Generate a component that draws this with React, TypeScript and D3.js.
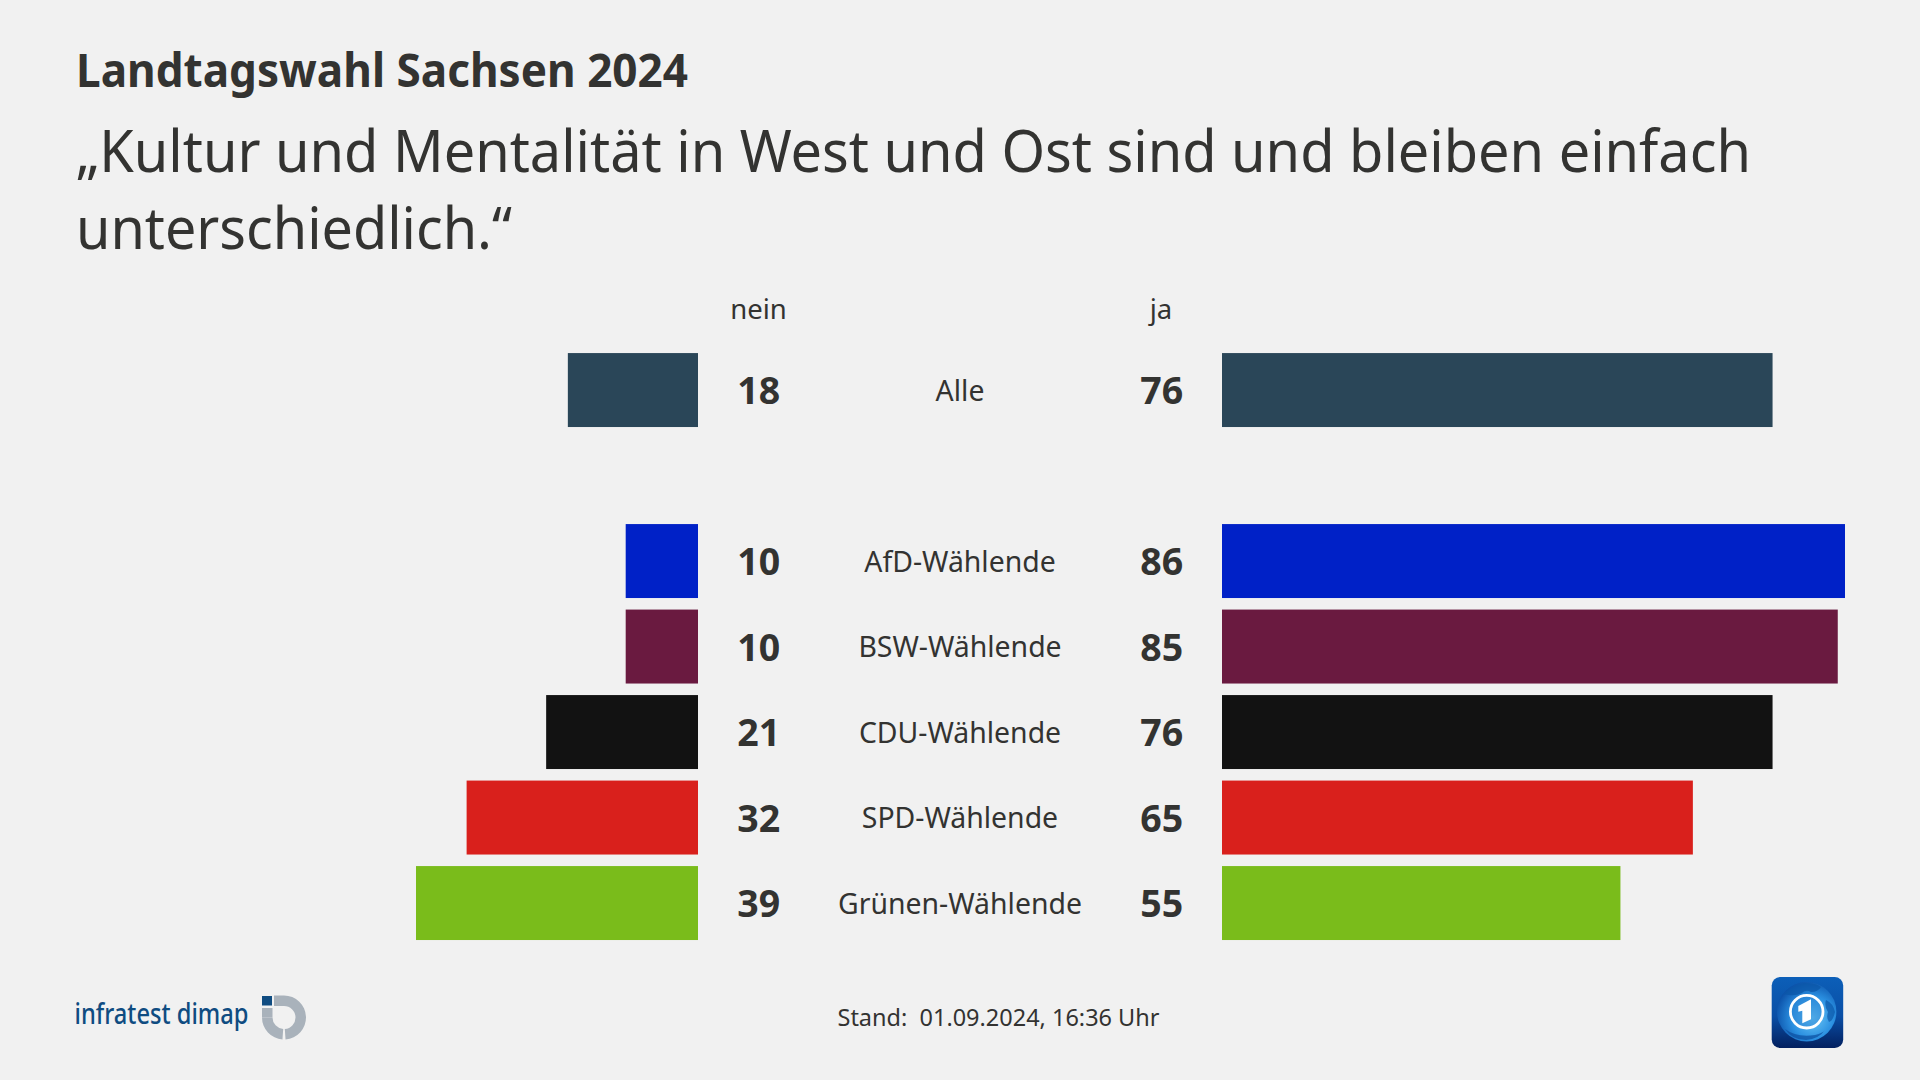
import React from "react";
import * as d3 from "d3";

const categories = ["Alle", "", "AfD-Wählende", "BSW-Wählende", "CDU-Wählende", "SPD-Wählende", "Grünen-Wählende"];
const neinValues = [18, null, 10, 10, 21, 32, 39];
const jaValues = [76, null, 86, 85, 76, 65, 55];
const barColors = ["#2a4658", "none", "#0021c7", "#6a1a40", "#121212", "#d9201c", "#7abc1b"];

const FONT = '"Noto Sans", "Open Sans", sans-serif';
const INK = "#333331";

export default function App() {
  const y = d3.scaleBand<string>().domain(categories.map((c, i) => String(i))).range([347.3, 945.8]).paddingInner(0.135).paddingOuter(0.0675);
  const xJa = d3.scaleLinear().domain([0, 86]).range([1222, 1845]);
  const xNein = d3.scaleLinear().domain([0, 39]).range([698, 416]);
  const arc = d3.arc<any>();
  const deg = (a: number) => (a * Math.PI) / 180;
  const ringL = arc({ innerRadius: 11.5, outerRadius: 22, startAngle: deg(-90), endAngle: deg(-176) } as any) as string;
  const ringR = arc({ innerRadius: 11.5, outerRadius: 22, startAngle: deg(0), endAngle: deg(176) } as any) as string;

  return (
    <svg width={1920} height={1080} viewBox="0 0 1920 1080" style={{ position: "absolute", left: 0, top: 0, display: "block" }} fontFamily={FONT}>
      <defs>
        <linearGradient id="tile" x1="0" y1="0" x2="0" y2="1">
          <stop offset="0" stopColor="#0c5fb8" />
          <stop offset="0.55" stopColor="#0a4fa6" />
          <stop offset="1" stopColor="#03205f" />
        </linearGradient>
        <radialGradient id="globe" cx="0.6" cy="0.6" r="0.65">
          <stop offset="0" stopColor="#6cc8f7" />
          <stop offset="0.55" stopColor="#2a8fe0" />
          <stop offset="1" stopColor="#0a4ea6" />
        </radialGradient>
      </defs>
      <rect width={1920} height={1080} fill="#f1f1f1" />

      <text x={76} y={86.5} fontSize={46} fontWeight={700} fill={INK} textLength={612} lengthAdjust="spacingAndGlyphs">Landtagswahl Sachsen 2024</text>
      <text x={76} y={171.5} fontSize={59} fill={INK} textLength={1675} lengthAdjust="spacingAndGlyphs">„Kultur und Mentalität in West und Ost sind und bleiben einfach</text>
      <text x={76} y={249} fontSize={59} fill={INK} textLength={436} lengthAdjust="spacingAndGlyphs">unterschiedlich.“</text>

      <text x={758.5} y={319.3} fontSize={27.5} fill={INK} textAnchor="middle">nein</text>
      <text x={1161} y={319.3} fontSize={27.5} fill={INK} textAnchor="middle">ja</text>

      {categories.map((c, i) => {
        if (!c) return null;
        const key = String(i);
        const top = y(key)!;
        const h = y.bandwidth();
        const cy = top + h / 2;
        const n = neinValues[i] as number;
        const j = jaValues[i] as number;
        return (
          <g key={c}>
            <rect x={xNein(n)} y={top} width={xNein(0) - xNein(n)} height={h} fill={barColors[i]} />
            <rect x={xJa(0)} y={top} width={xJa(j) - xJa(0)} height={h} fill={barColors[i]} />
            <text x={758.8} y={cy + 14} fontSize={37.5} fontWeight={700} fill={INK} textAnchor="middle">{n}</text>
            <text x={960} y={cy + 10.6} fontSize={28.4} fill={INK} textAnchor="middle">{c}</text>
            <text x={1161.8} y={cy + 14} fontSize={37.5} fontWeight={700} fill={INK} textAnchor="middle">{j}</text>
          </g>
        );
      })}

      <text x={837.5} y={1026} fontSize={24} fill={INK} xmlSpace="preserve" textLength={322} lengthAdjust="spacingAndGlyphs">Stand:  01.09.2024, 16:36 Uhr</text>

      <g>
        <text x={74.5} y={1023.5} fontSize={28} fontWeight={500} fill="#0f4c81" textLength={174} lengthAdjust="spacingAndGlyphs">infratest dimap</text>
        <g transform="translate(284 1017.5)" fill="#a9b2bb">
          <path d={ringL} />
          <path d={ringR} />
          <rect x={-10} y={-22} width={10} height={10.5} />
          <rect x={-22} y={-9.5} width={10.5} height={9.5} />
        </g>
        <rect x={262} y={996} width={10} height={9.5} fill="#0f4c81" />
      </g>

      <g>
        <rect x={1771.7} y={977} width={71.5} height={71} rx={8.5} fill="url(#tile)" />
        <circle cx={1806.7} cy={1011.7} r={29.7} fill="url(#globe)" />
        <path d="M1784 994 q6 -8 20 -11 q12 0 17 4 q-3 5 -10 5 q-5 -3 -9 1 q-8 4 -18 1z" fill="#0b57a8" opacity={0.75} />
        <path d="M1826 1000 q7 3 9 12 q-2 9 -6 10 q-3 -4 -1 -10 q-4 -6 -2 -12z" fill="#0b57a8" opacity={0.7} />
        <path d="M1785 1029 q12 9 30 6 q8 -2 10 -5 q-6 9 -19 10 q-14 0 -21 -11z" fill="#0b4d9e" opacity={0.7} />
        <circle cx={1806.7} cy={1011.7} r={16.3} fill="#2a80d0" fillOpacity={0.45} stroke="#ffffff" strokeWidth={2.8} />
        <path d="M1798.3 1006 L1811 999.3 L1811 1019.3 L1802.3 1023.3 L1802.3 1010.7 L1798.3 1011.7Z" fill="#ffffff" />
      </g>
    </svg>
  );
}
